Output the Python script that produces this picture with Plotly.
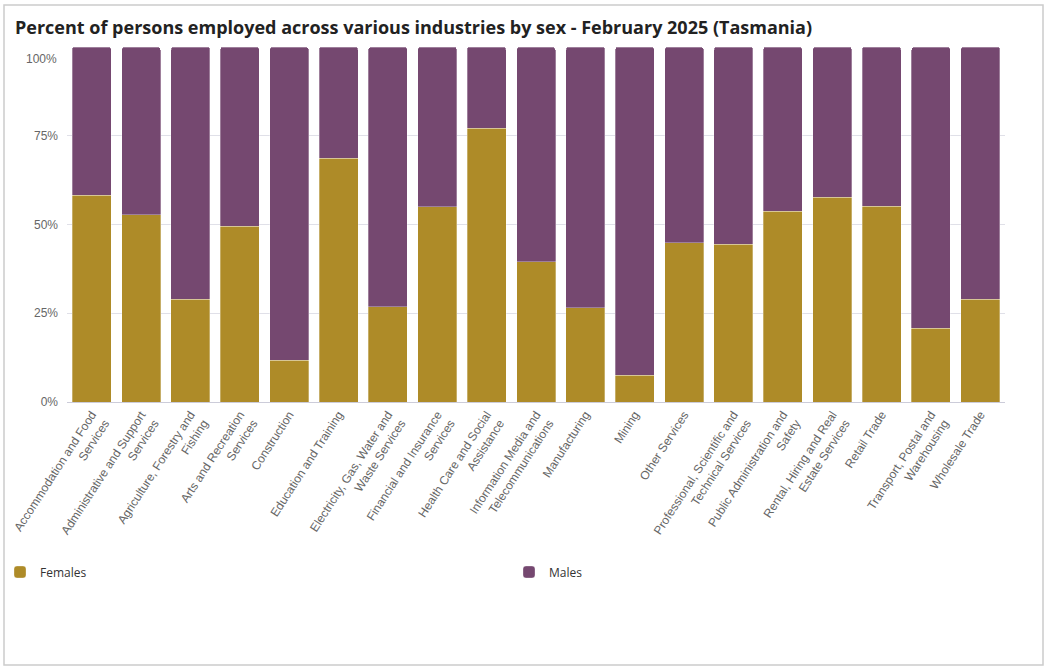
import plotly.graph_objects as go

# industries (x categories), labels wrapped like the source chart
industries = [
    "Accommodation and Food<br>Services",
    "Administrative and Support<br>Services",
    "Agriculture, Forestry and<br>Fishing",
    "Arts and Recreation<br>Services",
    "Construction",
    "Education and Training",
    "Electricity, Gas, Water and<br>Waste Services",
    "Financial and Insurance<br>Services",
    "Health Care and Social<br>Assistance",
    "Information Media and<br>Telecommunications",
    "Manufacturing",
    "Mining",
    "Other Services",
    "Professional, Scientific and<br>Technical Services",
    "Public Administration and<br>Safety",
    "Rental, Hiring and Real<br>Estate Services",
    "Retail Trade",
    "Transport, Postal and<br>Warehousing",
    "Wholesale Trade",
]

# percent of persons employed
females = [58.3, 52.7, 28.9, 49.5, 11.8, 68.7, 26.8, 55.0, 77.1, 39.5,
           26.5, 7.5, 44.8, 44.5, 53.7, 57.7, 55.2, 20.8, 28.9]
males = [41.7, 47.3, 71.1, 50.5, 88.2, 31.3, 73.2, 45.0, 22.9, 60.5,
         73.5, 92.5, 55.2, 55.5, 46.3, 42.3, 44.8, 79.2, 71.1]

y_ticks = [0, 25, 50, 75, 100]
y_tick_text = ["0%", "25%", "50%", "75%", ""]

GOLD = "#ae8b28"
PURPLE = "#754870"

W, H = 1049, 670
L, R, T, B = 67, 44, 47, 268
pw, ph = W - L - R, H - T - B

fig = go.Figure()
fig.add_trace(go.Bar(
    x=industries, y=females, name="Females", legend="legend", showlegend=True,
    marker=dict(color=GOLD, line=dict(color="rgba(255,255,255,0.5)", width=0.6)),
    hovertemplate="%{y:.1f}%<extra>Females</extra>",
))
fig.add_trace(go.Bar(
    x=industries, y=males, name="Males", legend="legend2", showlegend=True,
    marker=dict(color=PURPLE, line=dict(color="rgba(255,255,255,0.5)", width=0.6)),
    hovertemplate="%{y:.1f}%<extra>Males</extra>",
))

legend_style = dict(
    orientation="h", xanchor="left",
    y=(H - B - 572) / ph, yanchor="middle",
    bgcolor="rgba(0,0,0,0)", visible=True,
    font=dict(family="Open Sans", size=12, color="#333333"),
)

fig.update_layout(
    width=W, height=H, showlegend=True,
    barmode="stack", bargap=0.21, barcornerradius=3,
    plot_bgcolor="white", paper_bgcolor="white",
    margin=dict(l=L, r=R, t=T, b=B, autoexpand=False),
    title=dict(
        text="<b>Percent of persons employed across various industries by sex - February 2025 (Tasmania)</b>",
        font=dict(family="Open Sans", size=18, color="#222222"),
        xref="container", yref="container",
        x=15 / W, xanchor="left", y=1 - 28 / H, yanchor="middle",
    ),
    font=dict(family="Liberation Sans, Arial", color="#666666"),
    xaxis=dict(
        tickangle=-57, tickfont=dict(size=12, color="#666666"),
        showgrid=False, showline=True, linecolor="#ccccd9", linewidth=1,
        ticks="", fixedrange=True,
    ),
    yaxis=dict(
        range=[0, 100], tickvals=y_ticks, ticktext=y_tick_text,
        tickfont=dict(size=12, color="#666666"),
        gridcolor="#e0e0e8", gridwidth=1, zeroline=False,
        ticks="", ticklabelstandoff=8, fixedrange=True,
    ),
    legend=dict(x=(0 - L) / pw, **legend_style),
    legend2=dict(x=(509 - L) / pw, **legend_style),
    annotations=[dict(
        text="100%", xref="paper", yref="y", x=0, y=100,
        xanchor="right", yanchor="middle", xshift=-8, yshift=-12,
        showarrow=False, font=dict(family="Liberation Sans, Arial", size=12, color="#666666"),
    )],
    shapes=[dict(
        type="rect", xref="paper", yref="paper",
        x0=(4 - L) / pw, x1=(1043 - L) / pw,
        y0=(H - B - 665) / ph, y1=(H - B - 5) / ph,
        line=dict(color="#cccccc", width=1.5), fillcolor="rgba(0,0,0,0)", layer="below",
    )],
    hovermode="x",
)

# drop the page's default body margin so the figure sits at the window's top-left
fig.write_html("out.html", config={"displayModeBar": False},
               post_script="document.body.style.margin='0px';")
